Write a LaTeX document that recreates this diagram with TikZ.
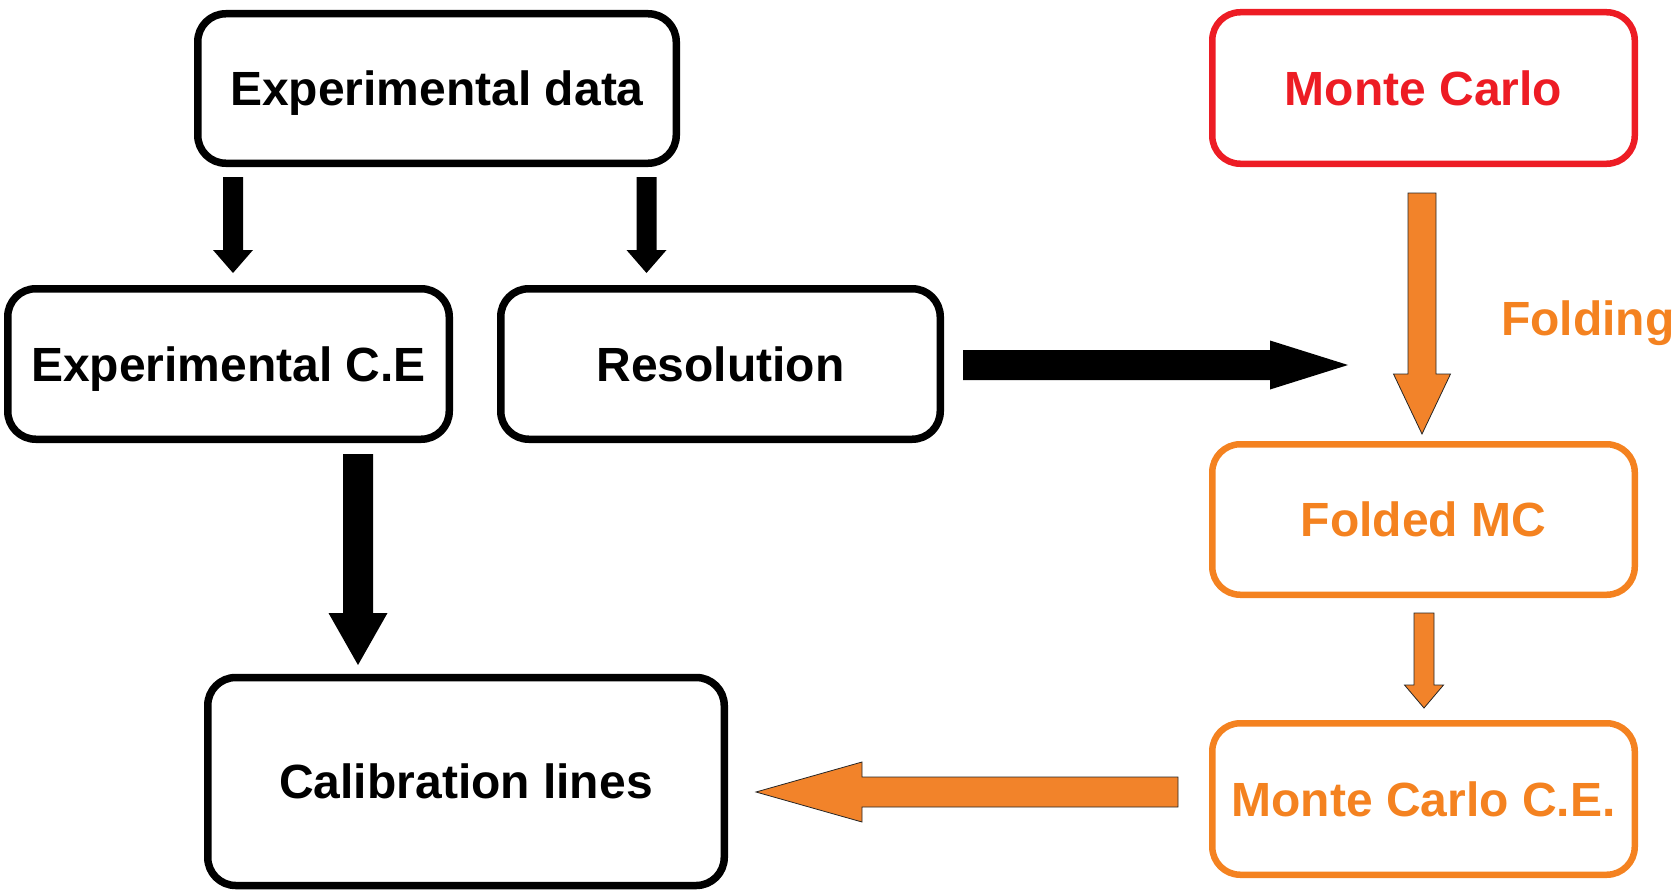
\documentclass[tikz,border=0pt]{standalone}
\usepackage{fontspec}
\setmainfont{Liberation Sans}
\usetikzlibrary{calc}
\definecolor{mcred}{HTML}{ED1C24}
\definecolor{mcorange}{HTML}{F48220}
\definecolor{arrorange}{HTML}{F2832A}
\newcommand\fatarrow[6]{%
  \path[#1] let \p1=(#2), \p2=(#3),
    \n1={veclen(\x2-\x1,\y2-\y1)},
    \n2={(\x2-\x1)/\n1}, \n3={(\y2-\y1)/\n1} in
    ({\x1-\n3*#4},{\y1+\n2*#4})
    -- ({\x2-\n2*#6-\n3*#4},{\y2-\n3*#6+\n2*#4})
    -- ({\x2-\n2*#6-\n3*#5},{\y2-\n3*#6+\n2*#5})
    -- (\p2)
    -- ({\x2-\n2*#6+\n3*#5},{\y2-\n3*#6-\n2*#5})
    -- ({\x2-\n2*#6+\n3*#4},{\y2-\n3*#6-\n2*#4})
    -- ({\x1+\n3*#4},{\y1-\n2*#4}) -- cycle;}
\tikzset{
  box/.style={draw, rounded corners=28pt, line width=7.5pt, inner sep=0pt,
    font=\fontsize{48}{58}\selectfont\bfseries, text height=34.4pt, text depth=0pt,
    align=center},
  blackarrow/.style={fill=black},
  orangearrow/.style={fill=arrorange, draw=black!85, line width=0.8pt, line join=miter},
  lbl/.style={inner sep=0pt, font=\fontsize{48}{58}\selectfont\bfseries,
    text height=34.4pt, text depth=0pt}
}
\begin{document}
\begin{tikzpicture}[x=1pt,y=-1pt]
\useasboundingbox (0,0) rectangle (1676,891);
% boxes
\node[box, minimum width=478.5pt, minimum height=149.5pt] (expdata) at (437,88.5) {Experimental data};
\node[box, draw=mcred, text=mcred, line width=6.5pt, minimum width=422.5pt, minimum height=151.5pt] (mc) at (1423.5,88) {Monte Carlo};
\node[box, minimum width=441.5pt, minimum height=150.5pt] (expce) at (228.5,364) {Experimental C.E};
\node[box, minimum width=439.5pt, minimum height=150.5pt] (res) at (720.5,364) {Resolution};
\node[box, draw=mcorange, text=mcorange, line width=6.5pt, minimum width=422.5pt, minimum height=150.5pt] (fmc) at (1423.5,519.5) {Folded MC};
\node[box, draw=mcorange, text=mcorange, line width=6.5pt, minimum width=422.5pt, minimum height=151.5pt] (mcce) at (1423.5,799) {Monte Carlo C.E.};
\node[box, minimum width=516.5pt, minimum height=208pt] (cal) at (466,781.5) {Calibration lines};
\node[lbl, text=mcorange, anchor=west] (fold) at (1501,318) {Folding};
% arrow end points
\coordinate (a1s) at (233,177);  \coordinate (a1e) at (233,273);
\coordinate (a2s) at (646.5,177); \coordinate (a2e) at (646.5,273);
\coordinate (a3s) at (358,454);  \coordinate (a3e) at (358,665);
\coordinate (a4s) at (963,365);  \coordinate (a4e) at (1348,365);
\coordinate (a5s) at (1422,193); \coordinate (a5e) at (1422,434);
\coordinate (a6s) at (1424,613); \coordinate (a6e) at (1424,708);
\coordinate (a7s) at (1178,792); \coordinate (a7e) at (756,792);
% arrows
\fatarrow{blackarrow}{a1s}{a1e}{10}{20}{23}
\fatarrow{blackarrow}{a2s}{a2e}{10}{20}{23}
\fatarrow{blackarrow}{a3s}{a3e}{15}{29.5}{52}
\fatarrow{blackarrow}{a4s}{a4e}{15}{24.5}{78}
\fatarrow{orangearrow}{a5s}{a5e}{14}{28.5}{60}
\fatarrow{orangearrow}{a6s}{a6e}{10}{19.5}{23}
\fatarrow{orangearrow}{a7s}{a7e}{15}{30}{106}
\end{tikzpicture}
\end{document}
